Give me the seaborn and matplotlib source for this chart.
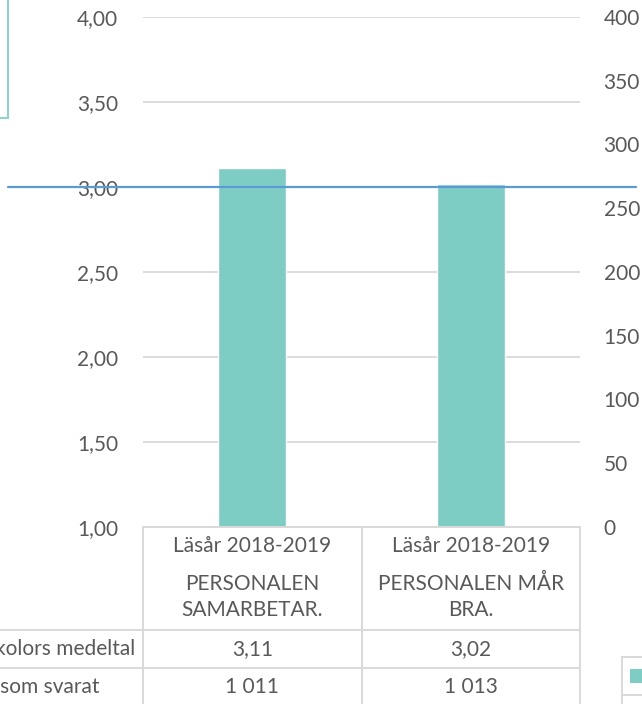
import matplotlib
matplotlib.use("Agg")
import matplotlib.pyplot as plt
import matplotlib.transforms as mtransforms
from matplotlib.lines import Line2D
from matplotlib.patches import Rectangle
import seaborn as sns

# data
categories = ["PERSONALEN\nSAMARBETAR.", "PERSONALEN MÅR\nBRA."]
period = ["Läsår 2018-2019", "Läsår 2018-2019"]
means = [3.11, 3.02]
answered = [1011, 1013]
row_labels = ["Alla skolors medeltal", "Antal som svarat"]
left_ticks = [1.0, 1.5, 2.0, 2.5, 3.0, 3.5, 4.0]
right_ticks = [0, 50, 100, 150, 200, 250, 300, 350, 400]
ref_value = 3.0

W, H = 642, 704
TEXT = "#595959"
GRID = "#D9D9D9"
BAR = "#7ECDC4"
BLUE = "#5B9BD5"


def fx(x):
    return x / W


def fy(y):
    return 1 - y / H


sns.set_theme(style="white")
plt.rcParams["font.family"] = ["Lato", "DejaVu Sans"]
FS = 15

fig = plt.figure(figsize=(W / 100, H / 100), dpi=100)
ax = fig.add_axes([fx(143), fy(527), (580 - 143) / W, (527 - 17) / H])

sns.barplot(x=list(range(len(means))), y=means, color=BAR, width=0.31,
            saturation=1, ax=ax, zorder=3)
ax.set_xlim(-0.5, 1.5)
ax.set_ylim(1, 4)
ax.set_yticks(left_ticks)
ax.set_yticklabels([f"{t:.2f}".replace(".", ",") for t in left_ticks],
                   fontsize=FS, color=TEXT)
ax.set_xticks([])
ax.tick_params(axis="y", length=0, pad=18)
ax.yaxis.grid(True, color=GRID, lw=1.3)
ax.set_axisbelow(True)
for s in ax.spines.values():
    s.set_visible(False)

ax2 = ax.twinx()
ax2.set_ylim(0, 400)
ax2.set_yticks(right_ticks)
ax2.set_yticklabels([str(t) for t in right_ticks], fontsize=FS, color=TEXT)
ax2.tick_params(axis="y", length=0, pad=17)
ax2.grid(False)
for s in ax2.spines.values():
    s.set_visible(False)

# reference line across the chart
ax.axhline(ref_value, xmin=(8 - 143) / 437, xmax=(636 - 143) / 437,
           clip_on=False, color=BLUE, lw=1.6, zorder=6)

# data table
def hline(x0, x1, y):
    fig.add_artist(Line2D([fx(x0), fx(x1)], [fy(y), fy(y)], color=GRID, lw=1.4))


def vline(x, y0, y1):
    fig.add_artist(Line2D([fx(x), fx(x)], [fy(y0), fy(y1)], color=GRID, lw=1.4))


hline(143, 580, 527)
hline(0, 580, 630)
hline(0, 580, 668)
for x in (143, 362, 580):
    vline(x, 527, 704)

tr = mtransforms.blended_transform_factory(ax.transData, fig.transFigure)
for i in range(len(means)):
    ax.text(i, fy(546), period[i], transform=tr, ha="center", va="center",
            fontsize=FS, color=TEXT)
    ax.text(i, fy(597), categories[i], transform=tr, ha="center", va="center",
            fontsize=FS, color=TEXT, linespacing=1.4)
    ax.text(i, fy(649), f"{means[i]:.2f}".replace(".", ","), transform=tr,
            ha="center", va="center", fontsize=FS, color=TEXT)
    ax.text(i, fy(687), f"{answered[i]:,}".replace(",", " "), transform=tr,
            ha="center", va="center", fontsize=FS, color=TEXT)

# row labels: left aligned in a column that starts outside the visible area
t1 = fig.text(fx(135), fy(649), row_labels[0], ha="right", va="center",
              fontsize=FS, color=TEXT)
fig.canvas.draw()
x_left = t1.get_window_extent().x0 / W
t1.set_x(x_left)
t1.set_ha("left")
fig.text(x_left, fy(687), row_labels[1], ha="left", va="center",
         fontsize=FS, color=TEXT)

# partial legend boxes at the edges
fig.add_artist(Rectangle((fx(-20), fy(118)), fx(28), 118 / H + 0.01,
                         transform=fig.transFigure, fill=False,
                         edgecolor="#8ED3CB", lw=1.5))
fig.add_artist(Rectangle((fx(622), fy(720)), fx(40), (720 - 657) / H,
                         transform=fig.transFigure, fill=False,
                         edgecolor=GRID, lw=1.4))
fig.add_artist(Line2D([fx(622), fx(642)], [fy(695), fy(695)], color=GRID, lw=1.4))
fig.add_artist(Rectangle((fx(630), fy(683)), fx(14), 14 / H,
                         transform=fig.transFigure, facecolor=BAR,
                         edgecolor="none"))

fig.savefig("out.png", dpi=100)
